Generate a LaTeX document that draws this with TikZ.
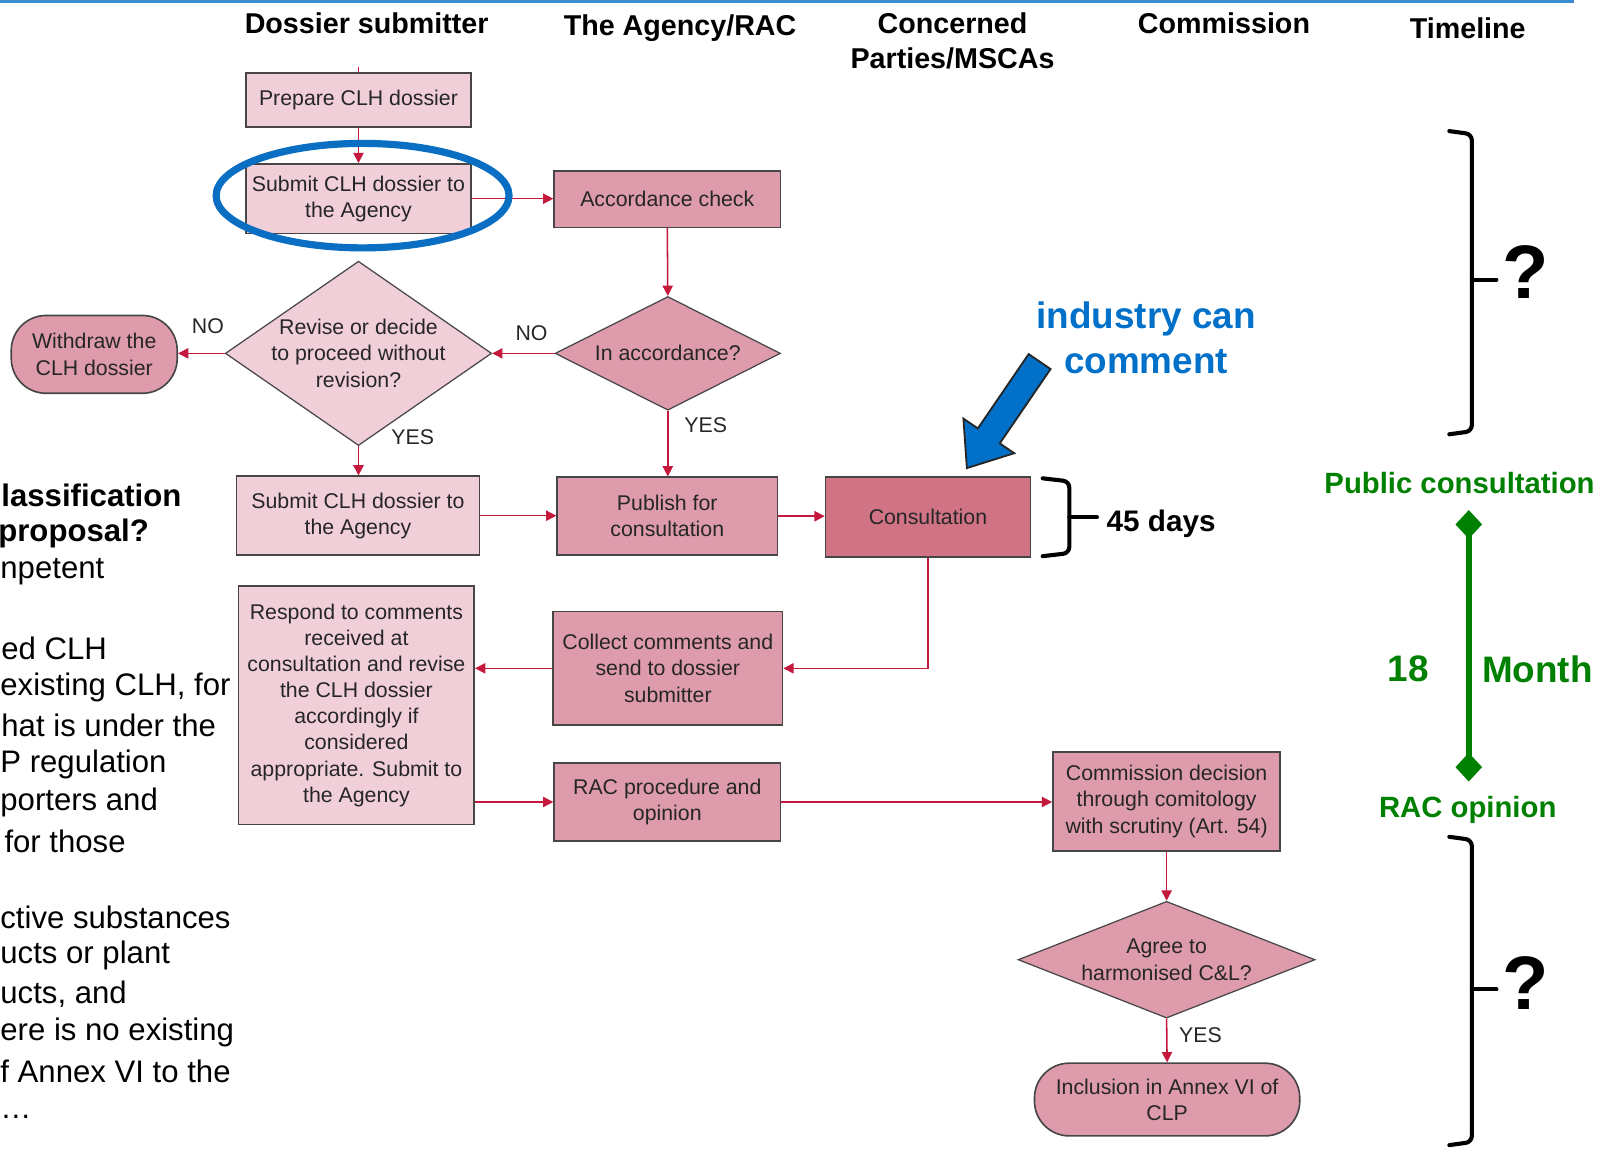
\documentclass[tikz,border=0pt]{standalone}
\usepackage{fontspec}
\setmainfont{Liberation Sans}
\usetikzlibrary{arrows.meta,shapes.geometric,calc}
\definecolor{pinkL}{RGB}{241,207,216}
\definecolor{pinkM}{RGB}{221,155,172}
\definecolor{pinkD}{RGB}{207,115,133}
\definecolor{bordergray}{RGB}{70,70,70}
\definecolor{connred}{RGB}{196,24,60}
\definecolor{ellblue}{RGB}{10,110,195}
\definecolor{txtblue}{RGB}{0,112,200}
\definecolor{tlgreen}{RGB}{0,128,0}
\definecolor{topblue}{RGB}{60,140,210}
\newcommand{\bxfont}{\fontsize{10.4}{12.75}\selectfont}
\newcommand{\hdrfont}{\fontsize{14}{17}\selectfont\bfseries}
\newcommand{\lftfont}{\fontsize{15.2}{18.75}\selectfont}
\newcommand{\grnfont}{\fontsize{14.3}{17}\selectfont\bfseries}
\newcommand{\bigfont}{\fontsize{18}{22}\selectfont\bfseries}
\newcommand{\qfont}{\fontsize{37}{40}\selectfont\bfseries}
\begin{document}
\begin{tikzpicture}[x=0.5pt,y=-0.5pt,
  bx/.style={rectangle, draw=bordergray, line width=0.8pt, align=center, font=\bxfont, inner sep=0pt, text=black!85},
  lbox/.style={bx, fill=pinkL},
  mbox/.style={bx, fill=pinkM},
  dbox/.style={bx, fill=pinkD},
  dia/.style={diamond, draw=bordergray, line width=0.6pt, inner sep=0pt},
  txt/.style={align=center, font=\bxfont, inner sep=0pt, text=black!85},
  conn/.style={draw=connred, line width=0.75pt, -{Triangle[length=5pt,width=5pt]}},
  yn/.style={font=\bxfont, inner sep=0pt, text=black!85},
  hdr/.style={font=\hdrfont, align=center, inner sep=0pt},
  lefttxt/.style={font=\lftfont, anchor=west, inner sep=0pt},
  brk/.style={draw=black, line width=2pt, rounded corners=3pt, line cap=round},
  grn/.style={text=tlgreen, font=\grnfont, inner sep=0pt},
]
\useasboundingbox (0,0) rectangle (1568,1125);

% top blue rule
\coordinate (ruleL) at (0,1.5);
\coordinate (ruleR) at (1537,1.5);
\draw[draw=topblue, line width=1.5pt] (ruleL) -- (ruleR);

% headers
\node[hdr] (h1) at (358,23) {Dossier submitter};
\node[hdr] (h2) at (664,27) {The Agency/RAC};
\node[hdr] (h3) at (930,40) {Concerned\\Parties/MSCAs};
\node[hdr] (h4) at (1195,23) {Commission};
\node[hdr] (h5) at (1433,28) {Timeline};

% left partially visible text
\node[lefttxt, font=\lftfont\bfseries] (l1) at (1,484) {lassification};
\node[lefttxt, font=\lftfont\bfseries] (l2) at (-2,521) {proposal?};
\node[lefttxt] (l3) at (0,558) {npetent};
\node[lefttxt] (l4) at (1,633) {ed CLH};
\node[lefttxt] (l5) at (0,671) {existing CLH, for};
\node[lefttxt] (l6) at (1,708) {hat is under the};
\node[lefttxt] (l7) at (0,746) {P regulation};
\node[lefttxt] (l8) at (0,783) {porters and};
\node[lefttxt] (l9) at (4,821) {for those};
\node[lefttxt] (l10) at (0,896) {ctive substances};
\node[lefttxt] (l11) at (0,933) {ucts or plant};
\node[lefttxt] (l12) at (0,971) {ucts, and};
\node[lefttxt] (l13) at (0,1008) {ere is no existing};
\node[lefttxt] (l14) at (0,1046) {f Annex VI to the};
\node[lefttxt] (l15) at (0,1090) {\ldots};

% boxes
\node[lbox, minimum width=110pt, minimum height=26.5pt] (prep) at (350,97.5) {Prepare CLH dossier};
\node[lbox, minimum width=110pt, minimum height=34pt] (sub1) at (350,194) {Submit CLH dossier to\\the Agency};
\node[mbox, minimum width=110.5pt, minimum height=27.5pt] (acc) at (651.5,194.5) {Accordance check};
\node[dia, fill=pinkM, minimum width=110pt, minimum height=55.5pt] (inacc) at (652,345) {};
\node[txt] (inacct) at (inacc) {In accordance?};
\node[dia, fill=pinkL, minimum width=130pt, minimum height=90pt] (rev) at (350,345) {};
\node[txt] (revt) at (rev) {Revise or decide\\to proceed without\\revision?};
\node[mbox, rounded corners=17pt, minimum width=81pt, minimum height=38pt] (wd) at (92,346) {Withdraw the\\CLH dossier};
\node[lbox, minimum width=118.5pt, minimum height=38.5pt] (sub2) at (349.5,503.5) {Submit CLH dossier to\\the Agency};
\node[mbox, minimum width=107.5pt, minimum height=38pt] (pub) at (651.5,504) {Publish for\\consultation};
\node[dbox, minimum width=100pt, minimum height=39pt] (cons) at (906,505) {Consultation};
\node[lbox, minimum width=115pt, minimum height=116.5pt] (resp) at (348,688.5) {Respond to comments\\received at\\consultation and revise\\the CLH dossier\\accordingly if\\considered\\appropriate. Submit to\\the Agency};
\node[mbox, minimum width=112pt, minimum height=55.5pt] (coll) at (652,652.5) {Collect comments and\\send to dossier\\submitter};
\node[mbox, minimum width=110.5pt, minimum height=38pt] (rac) at (651.5,783) {RAC procedure and\\opinion};
\node[mbox, minimum width=111pt, minimum height=48.5pt] (comm) at (1139,782.5) {Commission decision\\through comitology\\with scrutiny (Art. 54)};
\node[dia, fill=pinkM, minimum width=145pt, minimum height=57pt] (agree) at (1139,937) {};
\node[txt] (agreet) at (agree) {Agree to\\harmonised C\&L?};
\node[mbox, rounded corners=17pt, minimum width=129.5pt, minimum height=35.5pt] (incl) at (1139.5,1073.5) {Inclusion in Annex VI of\\CLP};

% connectors
\coordinate (stub) at (350,65);
\draw[draw=connred, line width=0.75pt] (stub) -- (prep.north);
\draw[conn] (prep.south) -- (sub1.north);
\draw[conn] (sub1.east) -- (sub1.east -| acc.west);
\draw[conn] (acc.south) -- (inacc.north);
\draw[conn] (inacc.west) -- (rev.east);
\draw[conn] (rev.west) -- (rev.west -| wd.east);
\draw[conn] (rev.south) -- (rev.south |- sub2.north);
\draw[conn] (inacc.south) -- (inacc.south |- pub.north);
\draw[conn] (sub2.east) -- (sub2.east -| pub.west);
\draw[conn] (pub.east) -- (pub.east -| cons.west);
\draw[conn] (cons.south) |- (coll.east);
\draw[conn] (coll.west) -- (coll.west -| resp.east);
\draw[conn] (rac.west -| resp.east) -- (rac.west);
\draw[conn] (rac.east) -- (rac.east -| comm.west);
\draw[conn] (comm.south) -- (agree.north);
\draw[conn] (agree.south) -- (incl.north);

% yes/no labels
\node[yn] (no1) at (203,318) {NO};
\node[yn] (no2) at (519,325) {NO};
\node[yn] (yes1) at (403,427) {YES};
\node[yn] (yes2) at (689,415) {YES};
\node[yn] (yes3) at (1172,1011) {YES};

% blue ellipse highlight
\draw[draw=ellblue, line width=3.5pt] (354,191) ellipse [x radius=71.5pt, y radius=25.5pt];

% industry can comment
\node[font=\bigfont, text=txtblue, align=center, inner sep=0pt] (ind) at (1119,330) {industry can\\comment};
\draw[fill=txtblue, draw=black!85, line width=0.9pt, line join=miter]
  (1025.7,360.3) -- (1004.3,345.7) -- (954.7,418.3) -- (940.6,408.7) -- (944,457)
  -- (990.2,442.5) -- (976.1,432.9) -- cycle;

% 45 days brace
\draw[brk] (1018,467) -- (1044,470) -- (1044,540) -- (1018,543);
\draw[brk] (1044,505) -- (1071,505);
\node[font=\fontsize{14.5}{17}\selectfont\bfseries, anchor=west, inner sep=0pt] (days) at (1080,511) {45 days};

% timeline brackets
\draw[brk] (1415,128) -- (1437,131) -- (1437,421) -- (1415,424);
\draw[brk] (1437,273) -- (1461,273);
\node[font=\qfont, inner sep=0pt] (q1) at (1490,266) {?};
\draw[brk] (1415,817) -- (1437,820) -- (1437,1115) -- (1415,1118);
\draw[brk] (1437,966) -- (1461,966);
\node[font=\qfont, inner sep=0pt] (q2) at (1490,960) {?};

% green timeline
\node[grn] (pc) at (1425,472) {Public consultation};
\coordinate (gTop) at (1434,498);
\coordinate (gBot) at (1434,763);
\draw[draw=tlgreen, fill=tlgreen, line width=3pt, {Diamond[length=14pt,width=13pt]}-{Diamond[length=14pt,width=13pt]}] (gTop) -- (gBot);
\node[grn, font=\fontsize{18}{22}\selectfont\bfseries] (n18) at (1375,653) {18};
\node[grn, font=\fontsize{18}{22}\selectfont\bfseries] (mon) at (1501,653) {Month};
\node[grn] (racop) at (1433,791) {RAC opinion};
\end{tikzpicture}
\end{document}
